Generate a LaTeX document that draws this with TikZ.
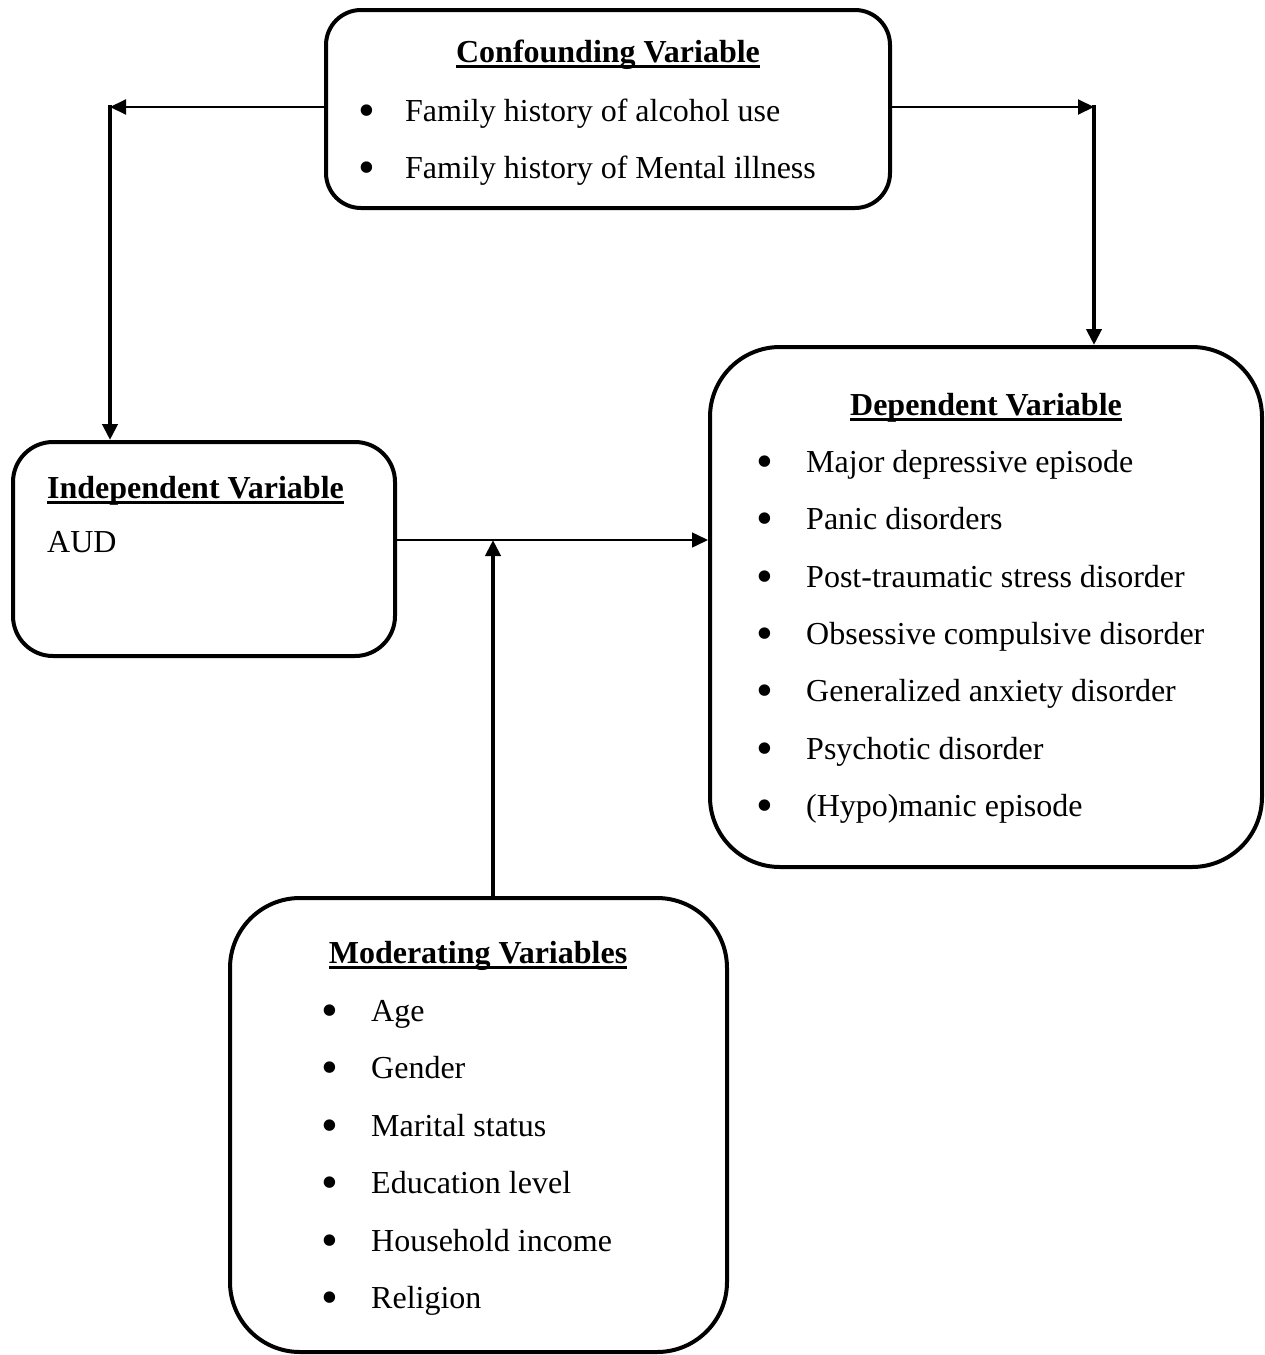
\documentclass[tikz,border=0pt]{standalone}
\usepackage{fontspec}
\setmainfont{Liberation Serif}
\usetikzlibrary{arrows.meta}
\newcommand\myul[1]{\setbox0\hbox{#1}\rlap{\rule[-5.5pt]{\wd0}{2.6pt}}\box0}
\tikzset{
  box/.style={draw=black, line width=4pt, rounded corners=#1, inner sep=0pt},
  txt/.style={anchor=base west, inner sep=0pt, font=\fontsize{32}{38}\selectfont},
  ttl/.style={anchor=base, inner sep=0pt, font=\fontsize{32}{38}\selectfont\bfseries},
  bul/.style={anchor=base, inner sep=0pt, font=\fontsize{48}{56}\selectfont},
  thinarrow/.style={line width=2pt, -{Triangle[length=16pt,width=15pt]}},
  thickarrow/.style={line width=4pt, -{Triangle[length=16pt,width=15pt]}},
  hairarrow/.style={line width=1.5pt, -{Triangle[length=16pt,width=15pt]}},
}
\begin{document}
\begin{tikzpicture}[x=1pt,y=-1pt]
\useasboundingbox (0,0) rectangle (1265,1355);
% boxes
\node[box=35, minimum width=564pt, minimum height=198pt] (conf) at (608,109) {};
\node[box=40, minimum width=382pt, minimum height=214pt] (indep) at (204,549) {};
\node[box=70, minimum width=552pt, minimum height=520pt] (dep) at (986,607) {};
\node[box=70, minimum width=497pt, minimum height=454pt] (mod) at (478.5,1125) {};
% confounding text
\node[ttl] (ct) at (608,62) {\myul{Confounding Variable}};
\node[bul] (cb1) at (367,126) {•};
\node[txt] (c1) at (405,121) {Family history of alcohol use};
\node[bul] (cb2) at (367,183) {•};
\node[txt] (c2) at (405,178) {Family history of Mental illness};
% independent text
\node[txt, font=\fontsize{32}{38}\selectfont\bfseries] (it) at (47,498) {\myul{Independent Variable}};
\node[txt] (i1) at (47,552) {AUD};
% dependent text
\node[ttl] (dt) at (986,415) {\myul{Dependent Variable}};
\foreach \y/\t [count=\k] in {472/Major depressive episode, 529/Panic disorders, 587/Post-traumatic stress disorder, 644/Obsessive compulsive disorder, 701/Generalized anxiety disorder, 759/Psychotic disorder, 816/(Hypo)manic episode}{
  \node[bul] (db\k) at (765,\y+5) {•};
  \node[txt] (d\k) at (806,\y) {\t};
}
% moderating text
\node[ttl] (mt) at (478,963) {\myul{Moderating Variables}};
\foreach \y/\t [count=\k] in {1021/Age, 1078/Gender, 1136/Marital status, 1193/Education level, 1251/Household income, 1308/Religion}{
  \node[bul] (mb\k) at (330,\y+5) {•};
  \node[txt] (m\k) at (371,\y) {\t};
}
% connectors
\coordinate (cl) at (110,107);
\coordinate (cr) at (1094,107);
\coordinate (mid) at (493,540);
\draw[thinarrow] (conf.west |- cl) -- (cl);
\draw[thickarrow, shorten <=-2pt] (cl) -- (cl |- indep.north);
\draw[thinarrow] (conf.east |- cr) -- (cr);
\draw[thickarrow, shorten <=-2pt] (cr) -- (cr |- dep.north);
\draw[hairarrow] (indep.east |- mid) -- (dep.west |- mid);
\draw[thickarrow] (mid |- mod.north) -- (mid);
\end{tikzpicture}
\end{document}
